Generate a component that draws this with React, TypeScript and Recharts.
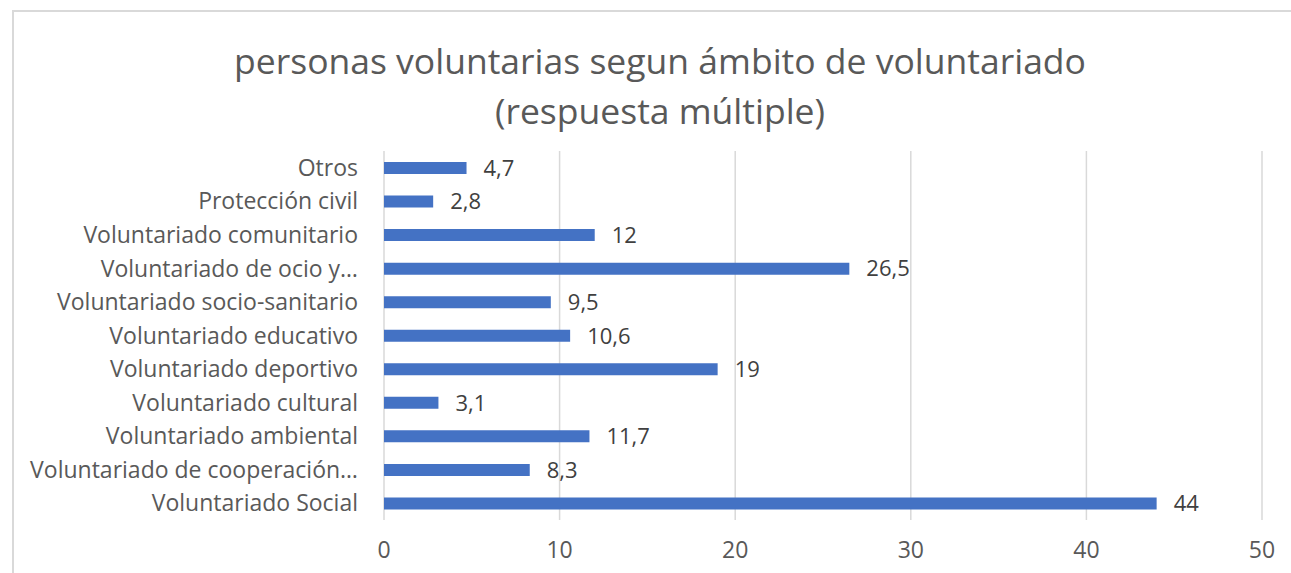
import { BarChart, Bar, XAxis, YAxis, CartesianGrid, LabelList } from 'recharts'

const categories = [
  'Otros',
  'Protección civil',
  'Voluntariado comunitario',
  'Voluntariado de ocio y…',
  'Voluntariado socio-sanitario',
  'Voluntariado educativo',
  'Voluntariado deportivo',
  'Voluntariado cultural',
  'Voluntariado ambiental',
  'Voluntariado de cooperación…',
  'Voluntariado Social',
]

const values = [4.7, 2.8, 12, 26.5, 9.5, 10.6, 19, 3.1, 11.7, 8.3, 44]

const xTicks = [0, 10, 20, 30, 40, 50]

const data = categories.map((name, i) => ({ name, value: values[i] }))

const FONT = '"Open Sans", "Noto Sans", sans-serif'
const fmt = (v: unknown) => String(v).replace('.', ',')

export default function App() {
  return (
    <div style={{ position: 'absolute', left: 0, top: 0, width: 1291, height: 573, background: '#fff', fontFamily: FONT }}>
      <div
        style={{
          position: 'absolute',
          left: 12,
          top: 10,
          right: 0,
          bottom: 0,
          borderTop: '2px solid #d9d9d9',
          borderLeft: '2px solid #d9d9d9',
        }}
      />
      <div
        style={{
          position: 'absolute',
          left: 0,
          width: 1320,
          top: 35,
          textAlign: 'center',
          color: '#595959',
          fontSize: 35.5,
          lineHeight: '50px',
        }}
      >
        personas voluntarias segun ámbito de voluntariado
        <br />
        (respuesta múltiple)
      </div>
      <div style={{ position: 'absolute', left: 0, top: 0 }}>
        <BarChart
          width={1291}
          height={573}
          data={data}
          layout="vertical"
          margin={{ top: 151, right: 29, bottom: 0, left: 20 }}
          barCategoryGap={0}
        >
          <CartesianGrid horizontal={false} stroke="#d9d9d9" strokeWidth={1.5} />
          <XAxis
            type="number"
            domain={[0, 50]}
            ticks={xTicks}
            axisLine={false}
            tickLine={false}
            tickSize={6}
            tickMargin={16}
            height={53}
            tick={{ fill: '#595959', fontSize: 23, fontFamily: FONT }}
          />
          <YAxis
            type="category"
            dataKey="name"
            width={364}
            axisLine={false}
            tickLine={false}
            tickSize={6}
            tickMargin={20}
            interval={0}
            tick={{ fill: '#595959', fontSize: 23, fontFamily: FONT }}
          />
          <Bar dataKey="value" fill="#4472C4" barSize={12} isAnimationActive={false}>
            <LabelList
              dataKey="value"
              position="right"
              offset={17}
              formatter={fmt}
              style={{ fill: '#404040', fontSize: 22, fontFamily: FONT }}
            />
          </Bar>
        </BarChart>
      </div>
    </div>
  )
}
